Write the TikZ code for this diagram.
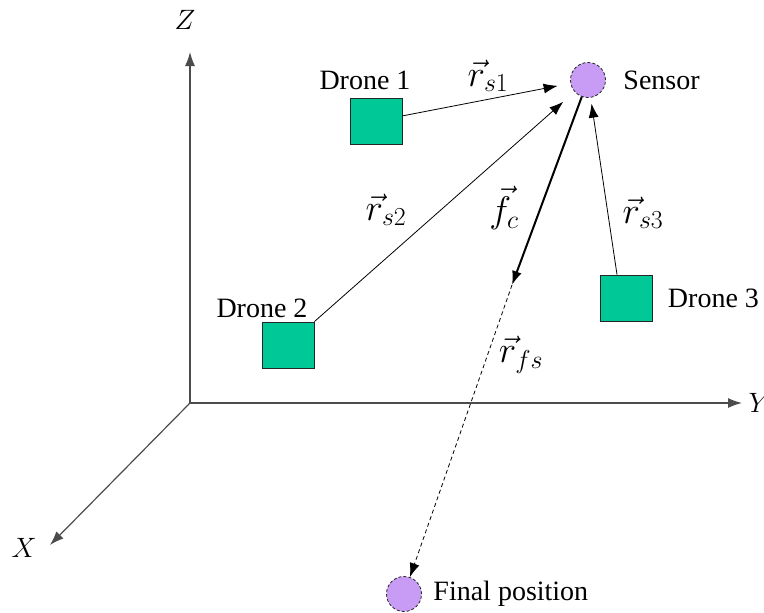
\RequirePackage{fix-cm}
\documentclass[tikz,border=0pt]{standalone}
\usepackage{fontspec}
\setmainfont{Liberation Serif}
\usetikzlibrary{arrows.meta,positioning}
\definecolor{dronegreen}{RGB}{0,200,150}
\definecolor{sensorlilac}{RGB}{200,155,245}

\begin{document}
\begin{tikzpicture}[
        x=1pt, y=-1pt,
        font=\fontsize{28}{32}\selectfont,
        >={Latex[length=14pt,width=10pt]},
        axis/.style={draw=black!70, line width=1.2pt, ->},
        drone/.style={draw=black!85, fill=dronegreen, line width=0.9pt, minimum width=52pt, minimum height=46pt, inner sep=0pt},
        target/.style={circle, draw=black!85, fill=sensorlilac, densely dashed, line width=0.8pt, minimum size=35pt, inner sep=0pt},
        link/.style={draw=black, line width=0.8pt, ->},
        vectext/.style={inner sep=1pt, font=\fontsize{37}{40}\selectfont}
    ]
        \useasboundingbox (0,0) rectangle (764,613);

        % axes
        \coordinate (origin) at (190,403);
        \coordinate (zend) at (190,52);
        \coordinate (yend) at (742,403);
        \coordinate (xend) at (50,545);
        \node (zlabel) at (185,20) {$Z$};
        \node[anchor=west] (ylabel) at (745,403) {$Y$};
        \node (xlabel) at (24,548) {$X$};

        % sensor, drones and final position
        \node[target] (sensor) at (588,80) {};
        \node[target] (final) at (404,594) {};
        \node[drone] (drone1) at (376,121) {};
        \node[drone] (drone2) at (288,345) {};
        \node[drone] (drone3) at (626,298) {};
        \coordinate (fctip) at (512,285);

        \node[right=14pt of sensor] (sensorlabel) {Sensor};
        \node[right=8pt of final] (finallabel) {Final position};
        \node[above=4pt of drone1, xshift=-11pt] (drone1label) {Drone 1};
        \node[above=0pt of drone2, xshift=-26pt] (drone2label) {Drone 2};
        \node[right=12pt of drone3] (drone3label) {Drone 3};

        % vector labels
        \node[vectext] (rs1) at (488,76) {$\vec{r}_{s1}$};
        \node[vectext] (rs2) at (386,210) {$\vec{r}_{s2}$};
        \node[vectext] (fc) at (504,208) {$\vec{f}_{c}$};
        \node[vectext] (rs3) at (643,213) {$\vec{r}_{s3}$};
        \node[vectext] (rfs) at (521,355) {$\vec{r}_{fs}$};

        \draw[axis] (origin) -- (zend);
        \draw[axis] (origin) -- (yend);
        \draw[axis] (origin) -- (xend);

        \draw[link, shorten >=13pt] (drone1) -- (sensor);
        \draw[link, shorten >=15pt] (drone2.north east) -- (sensor);
        \draw[link, shorten >=6pt] ([xshift=-9pt]drone3.north) -- (sensor);
        \draw[link, line width=2pt] (sensor) -- (fctip);
        \draw[link, dash pattern=on 4pt off 3pt] (fctip) -- (final);
    \end{tikzpicture}
\end{document}
